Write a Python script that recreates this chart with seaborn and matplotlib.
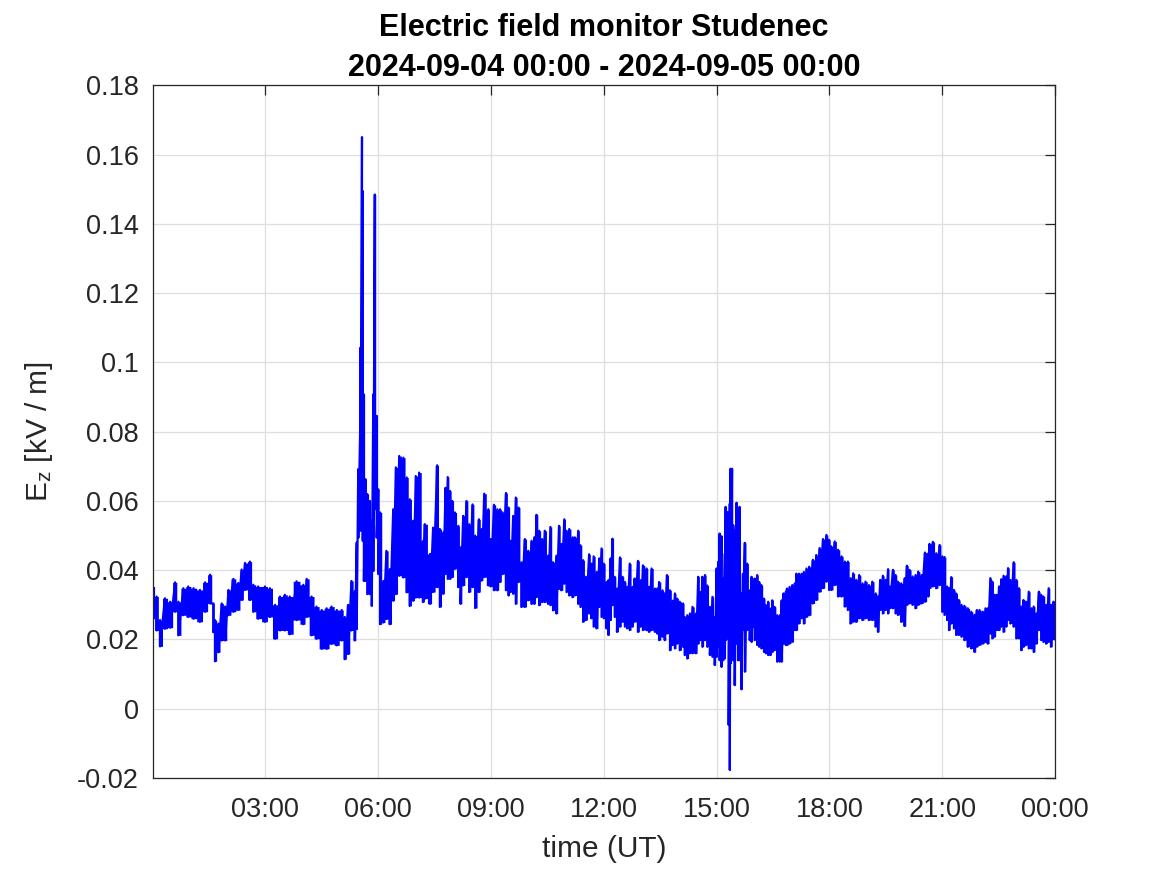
import numpy as np
import pandas as pd
import matplotlib
matplotlib.use("Agg")
import matplotlib.pyplot as plt
import seaborn as sns

# ---- data (hours UT, lower / upper envelope of Ez in kV/m) ----
hours = [
    0.00, 0.11, 0.20, 0.33, 0.47, 0.60, 0.69, 0.82,
    0.95, 1.09, 1.26, 1.40, 1.53, 1.62, 1.66, 1.75,
    1.84, 1.93, 2.02, 2.15, 2.28, 2.37, 2.46, 2.59,
    2.68, 2.81, 2.99, 3.12, 3.26, 3.39, 3.52, 3.65,
    3.83, 4.01, 4.10, 4.23, 4.36, 4.50, 4.63, 4.76,
    4.90, 5.03, 5.11, 5.20, 5.29, 5.38, 5.43, 5.47,
    5.52, 5.53, 5.57, 5.59, 5.62, 5.66, 5.71, 5.78,
    5.83, 5.87, 5.91, 5.96, 6.00, 6.05, 6.14, 6.22,
    6.31, 6.40, 6.47, 6.56, 6.67, 6.76, 6.84, 6.93,
    7.00, 7.09, 7.20, 7.24, 7.38, 7.46, 7.57, 7.64,
    7.73, 7.79, 7.85, 7.91, 7.97, 8.04, 8.13, 8.19,
    8.26, 8.35, 8.42, 8.51, 8.58, 8.68, 8.75, 8.82,
    8.93, 8.99, 9.08, 9.17, 9.24, 9.31, 9.40, 9.47,
    9.52, 9.59, 9.66, 9.73, 9.81, 9.90, 9.99, 10.08,
    10.15, 10.21, 10.28, 10.36, 10.43, 10.52, 10.58, 10.65,
    10.74, 10.81, 10.87, 10.95, 11.01, 11.08, 11.17, 11.23,
    11.32, 11.38, 11.45, 11.52, 11.61, 11.67, 11.73, 11.81,
    11.88, 11.94, 12.00, 12.07, 12.12, 12.18, 12.23, 12.29,
    12.35, 12.43, 12.50, 12.56, 12.62, 12.69, 12.76, 12.82,
    12.91, 12.98, 13.04, 13.14, 13.20, 13.27, 13.36, 13.42,
    13.47, 13.56, 13.62, 13.68, 13.76, 13.83, 13.89, 13.95,
    14.02, 14.11, 14.15, 14.22, 14.29, 14.36, 14.45, 14.51,
    14.57, 14.62, 14.69, 14.75, 14.82, 14.89, 14.95, 15.00,
    15.04, 15.08, 15.13, 15.17, 15.22, 15.24, 15.29, 15.32,
    15.35, 15.37, 15.41, 15.44, 15.48, 15.53, 15.57, 15.61,
    15.66, 15.70, 15.75, 15.81, 15.88, 15.93, 15.97, 16.01,
    16.08, 16.13, 16.19, 16.26, 16.31, 16.37, 16.43, 16.48,
    16.54, 16.61, 16.68, 16.73, 16.78, 16.84, 16.87, 16.94,
    17.01, 17.08, 17.12, 17.19, 17.26, 17.32, 17.39, 17.46,
    17.56, 17.65, 17.74, 17.83, 17.92, 17.99, 18.05, 18.14,
    18.23, 18.32, 18.41, 18.49, 18.56, 18.63, 18.71, 18.79,
    18.88, 18.96, 19.05, 19.14, 19.23, 19.29, 19.35, 19.42,
    19.49, 19.56, 19.60, 19.69, 19.76, 19.82, 19.91, 20.00,
    20.06, 20.13, 20.21, 20.29, 20.36, 20.45, 20.54, 20.63,
    20.66, 20.75, 20.84, 20.93, 21.00, 21.06, 21.13, 21.18,
    21.24, 21.31, 21.37, 21.44, 21.51, 21.59, 21.68, 21.77,
    21.86, 21.92, 21.99, 22.08, 22.15, 22.21, 22.28, 22.33,
    22.39, 22.45, 22.51, 22.57, 22.63, 22.70, 22.75, 22.81,
    22.90, 22.97, 23.04, 23.10, 23.16, 23.23, 23.30, 23.37,
    23.43, 23.50, 23.57, 23.63, 23.69, 23.76, 23.83, 23.89,
    23.96, 24.00,
]

ez_low = [
    0.0260, 0.0226, 0.0180, 0.0231, 0.0234, 0.0280, 0.0212, 0.0270,
    0.0265, 0.0260, 0.0251, 0.0280, 0.0304, 0.0221, 0.0137, 0.0163,
    0.0197, 0.0197, 0.0270, 0.0280, 0.0285, 0.0314, 0.0343, 0.0314,
    0.0280, 0.0260, 0.0251, 0.0265, 0.0202, 0.0226, 0.0226, 0.0215,
    0.0256, 0.0244, 0.0265, 0.0212, 0.0202, 0.0173, 0.0173, 0.0187,
    0.0183, 0.0197, 0.0143, 0.0158, 0.0226, 0.0197, 0.0230, 0.0494,
    0.0523, 0.0514, 0.0523, 0.0485, 0.0369, 0.0369, 0.0331, 0.0331,
    0.0297, 0.0398, 0.0576, 0.0494, 0.0389, 0.0244, 0.0249, 0.0259,
    0.0244, 0.0312, 0.0331, 0.0384, 0.0379, 0.0336, 0.0297, 0.0312,
    0.0321, 0.0321, 0.0308, 0.0318, 0.0303, 0.0337, 0.0351, 0.0294,
    0.0332, 0.0389, 0.0375, 0.0375, 0.0380, 0.0404, 0.0351, 0.0303,
    0.0356, 0.0380, 0.0337, 0.0351, 0.0291, 0.0337, 0.0370, 0.0380,
    0.0356, 0.0353, 0.0342, 0.0342, 0.0366, 0.0389, 0.0342, 0.0327,
    0.0337, 0.0332, 0.0303, 0.0366, 0.0294, 0.0294, 0.0313, 0.0303,
    0.0303, 0.0322, 0.0299, 0.0308, 0.0308, 0.0303, 0.0299, 0.0284,
    0.0275, 0.0346, 0.0342, 0.0361, 0.0337, 0.0327, 0.0322, 0.0327,
    0.0303, 0.0294, 0.0251, 0.0256, 0.0275, 0.0261, 0.0237, 0.0232,
    0.0294, 0.0265, 0.0261, 0.0232, 0.0213, 0.0256, 0.0299, 0.0265,
    0.0222, 0.0237, 0.0251, 0.0237, 0.0232, 0.0227, 0.0237, 0.0251,
    0.0222, 0.0237, 0.0227, 0.0227, 0.0222, 0.0227, 0.0222, 0.0217,
    0.0198, 0.0208, 0.0198, 0.0217, 0.0169, 0.0184, 0.0174, 0.0188,
    0.0169, 0.0179, 0.0155, 0.0145, 0.0160, 0.0160, 0.0160, 0.0188,
    0.0198, 0.0179, 0.0198, 0.0179, 0.0155, 0.0150, 0.0126, 0.0150,
    0.0179, 0.0140, 0.0121, 0.0140, 0.0145, 0.0198, 0.0203, -0.0047,
    -0.0177, 0.0131, 0.0208, 0.0140, 0.0068, 0.0188, 0.0140, 0.0140,
    0.0056, 0.0227, 0.0107, 0.0227, 0.0198, 0.0193, 0.0237, 0.0198,
    0.0184, 0.0179, 0.0174, 0.0164, 0.0160, 0.0155, 0.0155, 0.0164,
    0.0169, 0.0136, 0.0136, 0.0136, 0.0188, 0.0184, 0.0184, 0.0188,
    0.0193, 0.0227, 0.0227, 0.0246, 0.0261, 0.0246, 0.0265, 0.0270,
    0.0304, 0.0314, 0.0338, 0.0348, 0.0367, 0.0343, 0.0343, 0.0357,
    0.0324, 0.0324, 0.0295, 0.0285, 0.0246, 0.0251, 0.0251, 0.0261,
    0.0256, 0.0261, 0.0256, 0.0256, 0.0237, 0.0222, 0.0285, 0.0275,
    0.0285, 0.0275, 0.0290, 0.0290, 0.0275, 0.0271, 0.0251, 0.0239,
    0.0300, 0.0304, 0.0300, 0.0290, 0.0300, 0.0304, 0.0309, 0.0324,
    0.0348, 0.0353, 0.0348, 0.0357, 0.0280, 0.0271, 0.0256, 0.0227,
    0.0246, 0.0232, 0.0213, 0.0213, 0.0208, 0.0198, 0.0179, 0.0174,
    0.0164, 0.0179, 0.0184, 0.0188, 0.0193, 0.0188, 0.0217, 0.0203,
    0.0208, 0.0227, 0.0227, 0.0237, 0.0222, 0.0237, 0.0256, 0.0246,
    0.0237, 0.0203, 0.0203, 0.0169, 0.0179, 0.0184, 0.0174, 0.0174,
    0.0164, 0.0188, 0.0227, 0.0198, 0.0193, 0.0188, 0.0193, 0.0179,
    0.0203, 0.0200,
]

ez_high = [
    0.0353, 0.0324, 0.0256, 0.0319, 0.0309, 0.0365, 0.0309, 0.0348,
    0.0353, 0.0348, 0.0343, 0.0365, 0.0387, 0.0304, 0.0256, 0.0246,
    0.0304, 0.0295, 0.0343, 0.0375, 0.0363, 0.0402, 0.0421, 0.0425,
    0.0358, 0.0353, 0.0353, 0.0348, 0.0300, 0.0324, 0.0329, 0.0324,
    0.0368, 0.0358, 0.0375, 0.0324, 0.0295, 0.0285, 0.0290, 0.0295,
    0.0285, 0.0285, 0.0265, 0.0300, 0.0369, 0.0340, 0.0480, 0.0692,
    0.0802, 0.1043, 0.1651, 0.1495, 0.0908, 0.0663, 0.0620, 0.0600,
    0.0543, 0.0908, 0.1485, 0.0846, 0.0634, 0.0567, 0.0369, 0.0456,
    0.0403, 0.0576, 0.0697, 0.0730, 0.0725, 0.0668, 0.0605, 0.0543,
    0.0672, 0.0682, 0.0485, 0.0533, 0.0447, 0.0523, 0.0703, 0.0519,
    0.0509, 0.0638, 0.0669, 0.0629, 0.0600, 0.0567, 0.0528, 0.0466,
    0.0557, 0.0600, 0.0533, 0.0590, 0.0500, 0.0547, 0.0519, 0.0621,
    0.0576, 0.0490, 0.0589, 0.0576, 0.0576, 0.0567, 0.0623, 0.0581,
    0.0485, 0.0557, 0.0610, 0.0581, 0.0423, 0.0490, 0.0456, 0.0485,
    0.0495, 0.0560, 0.0514, 0.0490, 0.0514, 0.0442, 0.0525, 0.0423,
    0.0442, 0.0528, 0.0476, 0.0547, 0.0514, 0.0519, 0.0495, 0.0495,
    0.0514, 0.0472, 0.0429, 0.0381, 0.0446, 0.0419, 0.0440, 0.0395,
    0.0434, 0.0463, 0.0419, 0.0366, 0.0371, 0.0434, 0.0491, 0.0381,
    0.0347, 0.0437, 0.0381, 0.0366, 0.0352, 0.0419, 0.0352, 0.0376,
    0.0427, 0.0371, 0.0414, 0.0405, 0.0352, 0.0405, 0.0347, 0.0347,
    0.0366, 0.0342, 0.0333, 0.0386, 0.0342, 0.0312, 0.0333, 0.0318,
    0.0309, 0.0304, 0.0265, 0.0270, 0.0275, 0.0294, 0.0275, 0.0381,
    0.0337, 0.0381, 0.0386, 0.0356, 0.0294, 0.0323, 0.0265, 0.0405,
    0.0424, 0.0506, 0.0498, 0.0376, 0.0448, 0.0583, 0.0568, 0.0539,
    0.0592, 0.0693, 0.0693, 0.0530, 0.0515, 0.0595, 0.0578, 0.0583,
    0.0333, 0.0390, 0.0479, 0.0419, 0.0342, 0.0381, 0.0342, 0.0376,
    0.0386, 0.0366, 0.0357, 0.0318, 0.0299, 0.0309, 0.0289, 0.0313,
    0.0294, 0.0270, 0.0270, 0.0313, 0.0333, 0.0338, 0.0347, 0.0352,
    0.0357, 0.0362, 0.0390, 0.0390, 0.0390, 0.0395, 0.0405, 0.0410,
    0.0430, 0.0444, 0.0464, 0.0490, 0.0502, 0.0488, 0.0469, 0.0483,
    0.0459, 0.0440, 0.0425, 0.0425, 0.0377, 0.0391, 0.0372, 0.0386,
    0.0362, 0.0367, 0.0357, 0.0367, 0.0333, 0.0324, 0.0372, 0.0384,
    0.0372, 0.0403, 0.0353, 0.0401, 0.0386, 0.0367, 0.0362, 0.0377,
    0.0413, 0.0401, 0.0382, 0.0386, 0.0396, 0.0386, 0.0451, 0.0449,
    0.0476, 0.0482, 0.0449, 0.0473, 0.0440, 0.0438, 0.0353, 0.0348,
    0.0380, 0.0343, 0.0333, 0.0314, 0.0300, 0.0297, 0.0290, 0.0280,
    0.0271, 0.0285, 0.0285, 0.0280, 0.0290, 0.0290, 0.0377, 0.0367,
    0.0329, 0.0329, 0.0353, 0.0374, 0.0384, 0.0382, 0.0406, 0.0372,
    0.0423, 0.0372, 0.0348, 0.0295, 0.0314, 0.0309, 0.0338, 0.0290,
    0.0295, 0.0275, 0.0338, 0.0329, 0.0324, 0.0300, 0.0348, 0.0300,
    0.0309, 0.0300,
]

x_tick_hours = [3, 6, 9, 12, 15, 18, 21, 24]
x_tick_labels = ["03:00", "06:00", "09:00", "12:00", "15:00", "18:00", "21:00", "00:00"]
y_ticks = [-0.02, 0.0, 0.02, 0.04, 0.06, 0.08, 0.10, 0.12, 0.14, 0.16, 0.18]
y_tick_labels = ["-0.02", "0", "0.02", "0.04", "0.06", "0.08", "0.1", "0.12", "0.14", "0.16", "0.18"]

title_text = "Electric field monitor Studenec\n2024-09-04 00:00 - 2024-09-05 00:00"

assert len(hours) == len(ez_low) == len(ez_high)

# interleave upper/lower envelope to reproduce the dense oscillating trace
t = np.repeat(np.asarray(hours, dtype=float), 2)
ez = np.column_stack([ez_high, ez_low]).ravel()
df = pd.DataFrame({"time": t, "ez": ez})

sns.set_style("white")
plt.rcParams["font.family"] = ["Liberation Sans", "DejaVu Sans"]
plt.rcParams["mathtext.fontset"] = "custom"
plt.rcParams["mathtext.rm"] = "Liberation Sans"
plt.rcParams["mathtext.it"] = "Liberation Sans:italic"

axis_col = "#262626"
trace_col = "#0000ff"

fig = plt.figure(figsize=(11.67, 8.75), dpi=100)
ax = fig.add_axes([0.1307, 0.1109, 0.7734, 0.7914])

# solid band of the fast oscillation, blocky like the original trace
ax.fill_between(hours, ez_low, ez_high, step="mid", color=trace_col,
                linewidth=0, zorder=2)
sns.lineplot(data=df, x="time", y="ez", sort=False, estimator=None,
             color=trace_col, linewidth=1.6, ax=ax, zorder=3)

ax.set_xlim(0, 24)
ax.set_ylim(-0.02, 0.18)
ax.set_xticks(x_tick_hours)
ax.set_xticklabels(x_tick_labels)
ax.set_yticks(y_ticks)
ax.set_yticklabels(y_tick_labels)

ax.grid(True, color="#dedede", linewidth=0.9)
ax.set_axisbelow(True)

for sp in ax.spines.values():
    sp.set_visible(True)
    sp.set_color(axis_col)
    sp.set_linewidth(0.9)
    sp.set_zorder(4)

ax.tick_params(axis="both", direction="in", length=7, width=0.9,
               top=True, right=True, color=axis_col, labelcolor=axis_col,
               labelsize=19.5)
ax.tick_params(axis="x", pad=14)
ax.tick_params(axis="y", pad=10)

ax.set_xlabel("time (UT)", fontsize=21.5, color=axis_col)
ax.set_ylabel(r"E$_{\mathregular{z}}$ [kV / m]", fontsize=21.5, color=axis_col)
ax.xaxis.set_label_coords(0.5, -0.082)
ax.yaxis.set_label_coords(-0.108, 0.5)

ax.set_title(title_text, fontsize=22, fontweight="bold", color="black",
             pad=7, linespacing=1.42)

fig.savefig("out.png", dpi=100)
